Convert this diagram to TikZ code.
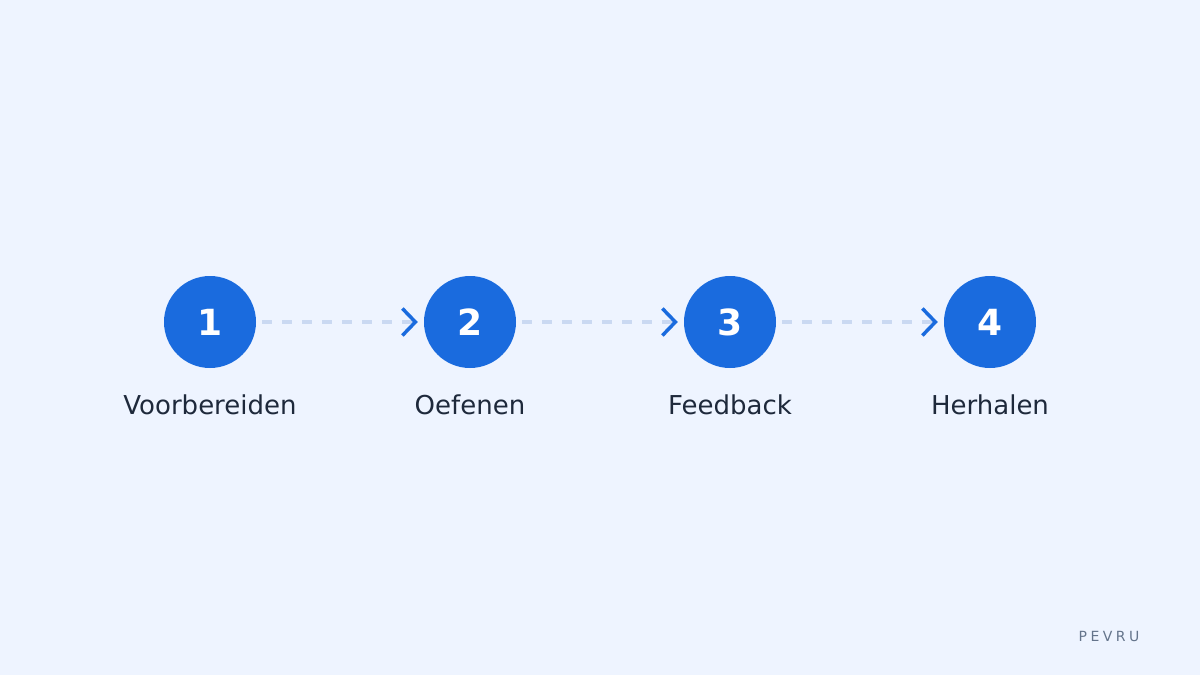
\documentclass[tikz,border=0pt]{standalone}
\usepackage{fontspec}
\setmainfont{DejaVu Sans}
\newfontfamily\brandfont[LetterSpace=25]{DejaVu Sans}
\usetikzlibrary{positioning, arrows.meta}
\definecolor{bgblue}{HTML}{EEF4FF}
\definecolor{stepblue}{HTML}{1A6BDE}
\definecolor{dashblue}{HTML}{CAD9F2}
\definecolor{inkdark}{HTML}{1E293B}
\definecolor{inkgray}{HTML}{64748B}
\tikzset{
	x=1pt, y=-1pt,
	node distance=260pt,
	stepnode/.style={circle, fill=stepblue, minimum size=92pt, inner sep=0pt,
		text=white, font=\fontsize{36pt}{40pt}\selectfont\bfseries},
	steplabel/.style={anchor=base, text=inkdark, inner sep=0pt,
		font=\fontsize{26pt}{30pt}\selectfont},
	flow/.style={dashblue, line width=4pt, dash pattern=on 10pt off 10pt,
		-{Straight Barb[length=13pt, width=27pt, line width=3.5pt, color=stepblue]}},
}
\begin{document}
\begin{tikzpicture}
	\fill[bgblue] (0,0) rectangle (1200,675);
	\useasboundingbox (0,0) rectangle (1200,675);
	% steps
	\node[stepnode] (s1) at (210,322) {1};
	\node[stepnode, right of=s1] (s2) {2};
	\node[stepnode, right of=s2] (s3) {3};
	\node[stepnode, right of=s3] (s4) {4};
	\node[steplabel] (l1) at ([yshift=-46pt]s1.south) {Voorbereiden};
	\node[steplabel] (l2) at ([yshift=-46pt]s2.south) {Oefenen};
	\node[steplabel] (l3) at ([yshift=-46pt]s3.south) {Feedback};
	\node[steplabel] (l4) at ([yshift=-46pt]s4.south) {Herhalen};
	% connectors
	\draw[flow] ([xshift=6pt]s1.east) -- ([xshift=-6pt]s2.west);
	\draw[flow] ([xshift=6pt]s2.east) -- ([xshift=-6pt]s3.west);
	\draw[flow] ([xshift=6pt]s3.east) -- ([xshift=-6pt]s4.west);
	\node[text=inkgray, font=\brandfont\fontsize{14pt}{16pt}\selectfont] (brand) at (1109,636) {PEVRU};
\end{tikzpicture}
\end{document}
